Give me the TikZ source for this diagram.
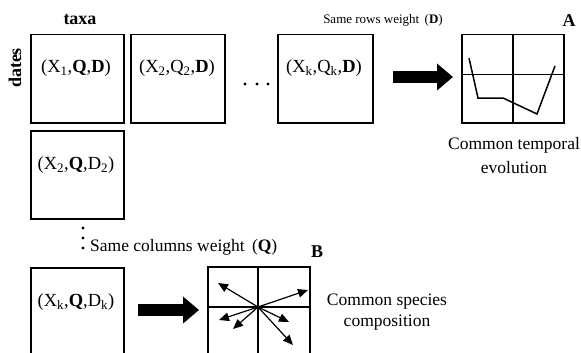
\documentclass[tikz,border=0pt]{standalone}
\usepackage{fontspec}
\setmainfont{Liberation Serif}
\usetikzlibrary{arrows.meta}
\begin{document}
\begin{tikzpicture}[x=1pt,y=-1pt,
  mbox/.style={draw,line width=1.5pt,inner sep=0pt,anchor=north west},
  lbl/.style={font=\fontsize{17.5}{20}\selectfont,inner sep=0pt},
  blbl/.style={font=\fontsize{18.5}{20}\selectfont,inner sep=0pt},
  small/.style={font=\fontsize{13}{15}\selectfont,inner sep=0pt},
  panel/.style={line width=1.5pt},
  thinpanel/.style={line width=1.2pt},
  bigarrow/.style={line width=12pt,-{Triangle[length=16pt,width=26pt]}},
  vec/.style={line width=1.2pt,-{Triangle[length=10pt,width=8.5pt]}},
  dot/.style={fill,circle,inner sep=0pt,minimum size=3.2pt}]
\useasboundingbox (0,0) rectangle (581,353);
\clip (0,0) rectangle (581,353);
% matrices
\node[mbox,minimum width=93pt,minimum height=88pt] (b1) at (30,34) {};
\node[mbox,minimum width=94pt,minimum height=88pt] (b2) at (130,34) {};
\node[mbox,minimum width=95pt,minimum height=88pt] (bk) at (277,34) {};
\node[mbox,minimum width=93pt,minimum height=88pt] (c2) at (30,130) {};
\node[mbox,minimum width=93pt,minimum height=100pt] (ck) at (30,267) {};
\node[blbl] (t1) at (76,68) {(X\textsubscript{1},\textbf{Q},\textbf{D})};
\node[blbl] (t2) at (177,68) {(X\textsubscript{2},Q\textsubscript{2},\textbf{D})};
\node[blbl] (tk) at (324,68) {(X\textsubscript{k},Q\textsubscript{k},\textbf{D})};
\node[blbl] (u2) at (76,165) {(X\textsubscript{2},\textbf{Q},D\textsubscript{2})};
\node[blbl] (uk) at (76,302) {(X\textsubscript{k},\textbf{Q},D\textsubscript{k})};
\node[lbl,font=\fontsize{18}{20}\selectfont\bfseries] (taxa) at (80,20) {taxa};
\node[lbl,font=\fontsize{18}{20}\selectfont\bfseries,rotate=90] (dates) at (15,68) {dates};
% dots
\node[dot] (h1) at (245,84) {};
\node[dot] (h2) at (257,84) {};
\node[dot] (h3) at (268,84) {};
\node[dot] (v1) at (83,228) {};
\node[dot] (v2) at (83,238) {};
\node[dot] (v3) at (83,248) {};
% labels
\node[small] (srw) at (383,20) {Same rows weight \,(\textbf{D})};
\node[lbl,font=\fontsize{18}{20}\selectfont\bfseries] (A) at (569,21) {A};
\node[lbl,anchor=west] (scw) at (90,247) {Same columns weight \,(\textbf{Q})};
\node[lbl,font=\fontsize{18}{20}\selectfont\bfseries] (B) at (317,252) {B};
\node[lbl] (cte1) at (514,145) {Common temporal};
\node[lbl] (cte2) at (514,168) {evolution};
\node[lbl] (csc1) at (387,302) {Common species};
\node[lbl] (csc2) at (387,323) {composition};
% panel A
\node[mbox,minimum width=102pt,minimum height=88pt] (pA) at (461,34) {};
\draw[panel] (pA.north) -- (pA.south);
\draw[panel] (pA.west) ++(0,-4) -- ++(102,0);
\draw[panel] (469,58) -- (478,98) -- (503,98) -- (537,114) -- (555,66);
% panel B
\node[mbox,minimum width=102pt,minimum height=100pt] (pB) at (207,266) {};
\coordinate (o) at (258,307);
\draw[thinpanel] (258,266) -- (258,366);
\draw[thinpanel] (207,307) -- (309,307);
\draw[vec] (o) -- (218,283);
\draw[vec] (o) -- (308,290);
\draw[vec] (o) -- (219,320);
\draw[vec] (o) -- (233,329);
\draw[vec] (o) -- (289,322);
\draw[vec] (o) -- (293,345);
% big arrows
\coordinate (a1s) at (393,77);
\coordinate (a1e) at (453,77);
\coordinate (a2s) at (138,310);
\coordinate (a2e) at (199,310);
\draw[bigarrow] (a1s) -- (a1e);
\draw[bigarrow] (a2s) -- (a2e);
\end{tikzpicture}
\end{document}
